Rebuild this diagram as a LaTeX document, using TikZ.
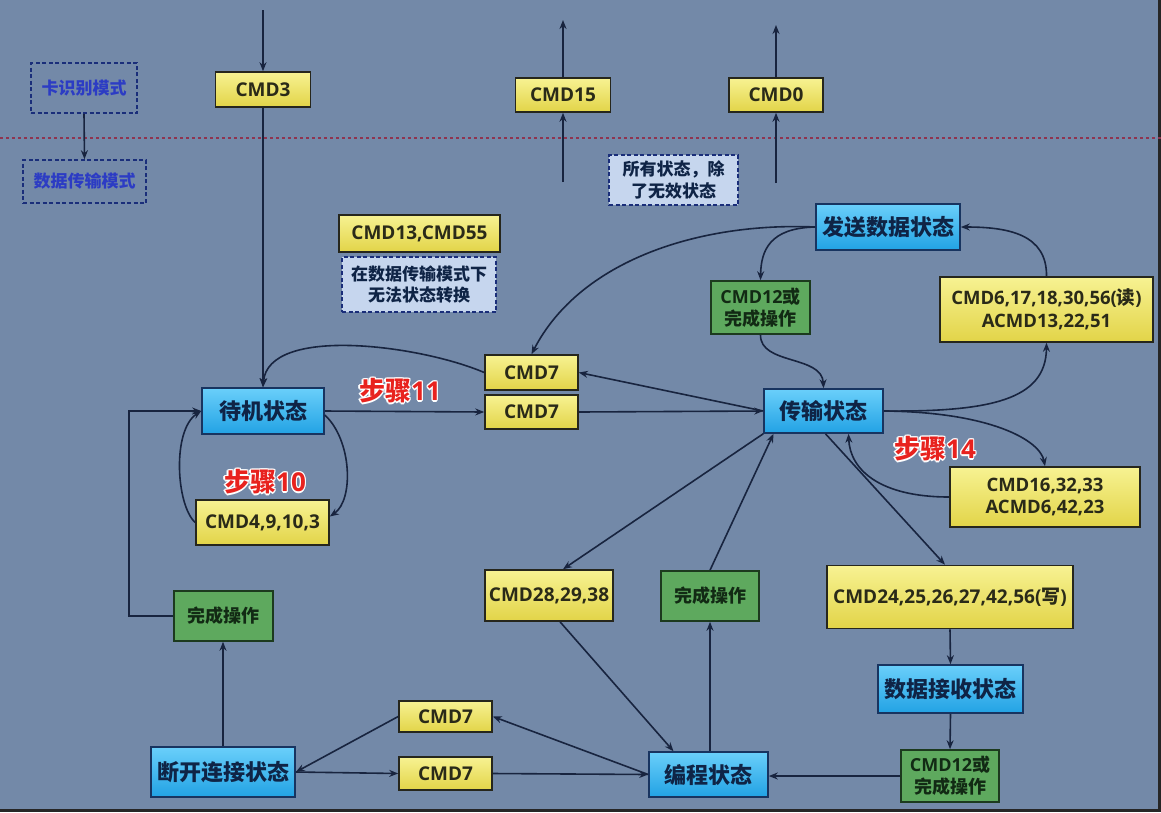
\documentclass[tikz,border=0pt]{standalone}
\usepackage{fontspec}
\setmainfont{Open Sans}
\newfontfamily\cjk{Noto Sans CJK SC}
\usetikzlibrary{arrows.meta}
\definecolor{bgc}{HTML}{7389A8}
\definecolor{lc}{HTML}{18243F}
\definecolor{ytop}{HTML}{F7F292}
\definecolor{ybot}{HTML}{E2D448}
\definecolor{ybord}{HTML}{26261C}
\definecolor{ytext}{HTML}{2A2A18}
\definecolor{btop}{HTML}{6ACFFA}
\definecolor{bbot}{HTML}{22A2E4}
\definecolor{bbord}{HTML}{183460}
\definecolor{btext}{HTML}{0F2446}
\definecolor{gfill}{HTML}{5EA95E}
\definecolor{gbord}{HTML}{1C3A1E}
\definecolor{gtext}{HTML}{122A14}
\definecolor{dfill}{HTML}{C6D6EE}
\definecolor{dbord}{HTML}{1A2E7A}
\definecolor{modetext}{HTML}{2C3CC4}
\definecolor{redlab}{HTML}{E8221E}
\definecolor{sepline}{HTML}{8E3450}
\newcommand\zh[1]{{\cjk #1}}
\newcommand\halo[1]{\leavevmode
  \rlap{\textcolor{white}{\raisebox{1.2pt}{#1}}}%
  \rlap{\textcolor{white}{\raisebox{-1.2pt}{#1}}}%
  \rlap{\textcolor{white}{\hspace{1.2pt}#1}}%
  \rlap{\textcolor{white}{\hspace{-1.2pt}#1}}%
  \rlap{\textcolor{white}{\hspace{0.9pt}\raisebox{0.9pt}{#1}}}%
  \rlap{\textcolor{white}{\hspace{-0.9pt}\raisebox{-0.9pt}{#1}}}%
  \rlap{\textcolor{white}{\hspace{0.9pt}\raisebox{-0.9pt}{#1}}}%
  \rlap{\textcolor{white}{\hspace{-0.9pt}\raisebox{0.9pt}{#1}}}%
  #1}
\begin{document}
\begin{tikzpicture}[x=1pt,y=-1pt,
  boxbase/.style={rectangle, inner sep=0pt, align=center, line width=1.6pt},
  ybox/.style={boxbase, draw=ybord, top color=ytop, bottom color=ybot, text=ytext, font=\bfseries\fontsize{19}{22}\selectfont},
  ybox2/.style={ybox, font=\bfseries\fontsize{18.5}{22.5}\selectfont},
  bbox/.style={boxbase, draw=bbord, top color=btop, bottom color=bbot, text=btext, font=\cjk\bfseries\fontsize{22}{25}\selectfont},
  gbox/.style={boxbase, draw=gbord, fill=gfill, text=gtext, font=\bfseries\fontsize{18}{22}\selectfont},
  notebox/.style={boxbase, draw=dbord, dash pattern=on 4pt off 2.5pt, fill=dfill, text=btext, font=\cjk\bfseries\fontsize{17}{21.5}\selectfont},
  modebox/.style={boxbase, draw=dbord, dash pattern=on 4pt off 2.5pt, text=modetext, font=\cjk\bfseries\fontsize{17}{20}\selectfont},
  steplab/.style={text=redlab, inner sep=0pt, font=\bfseries\fontsize{26}{29}\selectfont},
  conn/.style={draw=lc, line width=1.6pt, -{Stealth[length=9pt,width=7pt]}},
]
\useasboundingbox (0,0) rectangle (1161,812);
\fill[bgc] (0,0) rectangle (1161,812);
\fill[black!85] (0,809) rectangle (1161,812);
\fill[black!85] (1158,0) rectangle (1161,812);

% separator
\draw[sepline, line width=1.3pt, dash pattern=on 3pt off 3pt] (0,138) -- (1161,138);

% mode boxes
\node[modebox, minimum width=106pt, minimum height=50pt] (mode1) at (84,88) {卡识别模式};
\node[modebox, minimum width=123pt, minimum height=43pt] (mode2) at (84.5,181.5) {数据传输模式};

% top commands
\node[ybox, minimum width=95pt, minimum height=35pt] (cmd3) at (263,89.5) {CMD3};
\node[ybox, minimum width=95pt, minimum height=34pt] (cmd15) at (563,95) {CMD15};
\node[ybox, minimum width=94pt, minimum height=34pt] (cmd0) at (776,95) {CMD0};
\node[notebox, minimum width=129pt, minimum height=50pt] (allst) at (673.5,180) {所有状态，除\\了无效状态};
\node[ybox, minimum width=161pt, minimum height=37pt] (cmd1355) at (419.5,233.5) {CMD13,CMD55};
\node[notebox, minimum width=154pt, minimum height=55pt] (nochg) at (419,284.5) {在数据传输模式下\\无法状态转换};

% states
\node[bbox, minimum width=144pt, minimum height=46pt] (send) at (888,227) {发送数据状态};
\node[bbox, minimum width=122pt, minimum height=46pt] (idle) at (263,411) {待机状态};
\node[bbox, minimum width=119pt, minimum height=44pt] (trans) at (823.5,411) {传输状态};
\node[bbox, minimum width=145pt, minimum height=48pt] (recv) at (950.5,689) {数据接收状态};
\node[bbox, minimum width=119pt, minimum height=45pt] (prog) at (708.5,774.5) {编程状态};
\node[bbox, minimum width=144pt, minimum height=50pt] (dis) at (223,772) {断开连接状态};

% green
\node[gbox, minimum width=99pt, minimum height=53pt] (g1) at (760.5,307.5) {CMD12\zh{或}\\\zh{完成操作}};
\node[gbox, minimum width=99pt, minimum height=50pt] (gl) at (223.5,616) {\zh{完成操作}};
\node[gbox, minimum width=98pt, minimum height=50pt] (gm) at (710,596) {\zh{完成操作}};
\node[gbox, minimum width=98pt, minimum height=52pt] (g2) at (950,776) {CMD12\zh{或}\\\zh{完成操作}};

% yellow commands
\node[ybox2, minimum width=213pt, minimum height=65pt] (r1) at (1046.5,309.5) {CMD6,17,18,30,56(\zh{读})\\ACMD13,22,51};
\node[ybox, minimum width=93pt, minimum height=35pt] (c7u) at (531.5,372.5) {CMD7};
\node[ybox, minimum width=93pt, minimum height=34pt] (c7l) at (531.5,412) {CMD7};
\node[ybox2, minimum width=190pt, minimum height=60pt] (r2) at (1045,497) {CMD16,32,33\\ACMD6,42,23};
\node[ybox, minimum width=133pt, minimum height=45pt] (cmd4) at (262.5,522.5) {CMD4,9,10,3};
\node[ybox, minimum width=128pt, minimum height=51pt] (c28) at (549,595.5) {CMD28,29,38};
\node[ybox, minimum width=246pt, minimum height=63pt] (c24) at (950,597) {CMD24,25,26,27,42,56(\zh{写})};
\node[ybox, minimum width=93pt, minimum height=31pt] (c7bu) at (445.5,716.5) {CMD7};
\node[ybox, minimum width=93pt, minimum height=33pt] (c7bl) at (445.5,773.5) {CMD7};

% step labels
\node[steplab] (s11) at (400,391) {\halo{\zh{步骤}11}};
\node[steplab] (s10) at (265,482) {\halo{\zh{步骤}10}};
\node[steplab] (s14) at (935,449) {\halo{\zh{步骤}14}};

% free ends
\coordinate (t3) at (263,10);
\coordinate (b15) at (563,182);
\coordinate (t15) at (563,20);
\coordinate (b0) at (776,183);
\coordinate (t0) at (776,25);

% connectors
\draw[conn] (mode1.south) -- (mode2.north);
\draw[conn] (t3) -- (cmd3.north);
\draw[conn] (cmd3.south) -- (idle.north);
\draw[conn] (b15) -- (cmd15.south);
\draw[conn] (cmd15.north) -- (t15);
\draw[conn] (b0) -- (cmd0.south);
\draw[conn] (cmd0.north) -- (t0);

\draw[conn] (c7u.west) .. controls (420,345) and (268,325) .. (idle.north);
\draw[conn] (idle.east) -- (c7l.west);
\draw[conn] (c7l.east) -- (trans.west);
\draw[conn] (trans.west) -- (c7u.east);
\draw[conn] (send.west) .. controls (700,222) and (580,260) .. (c7u.north);
\draw[conn] (send.west) .. controls (770,228) and (761,250) .. (g1.north);
\draw[conn] (g1.south) .. controls (760,365) and (822,355) .. (trans.north);
\draw[conn] (trans.east) .. controls (990,412) and (1046,400) .. (r1.south);
\draw[conn] (r1.north) .. controls (1047,235) and (1010,227) .. (send.east);
\draw[conn] (trans.east) .. controls (990,412) and (1040,440) .. (r2.north);
\draw[conn] (r2.west) .. controls (880,497) and (850,470) .. ([xshift=25pt]trans.south);
\draw[conn] (trans.south west) -- ([xshift=14pt]c28.north);
\draw[conn] (gm.north) -- ([xshift=-50pt]trans.south);
\draw[conn] ([xshift=2pt]trans.south) -- ([xshift=-5pt]c24.north);
\draw[conn] ([xshift=11pt]c28.south) -- ([xshift=-35pt]prog.north);
\draw[conn] (prog.north -| gm.south) -- (gm.south);
\draw[conn] (c24.south) -- (recv.north);
\draw[conn] (recv.south) -- (g2.north);
\draw[conn] (g2.west) -- (g2.west -| prog.east);
\draw[conn] (prog.west) -- (c7bu.east);
\draw[conn] (c7bl.east) -- (prog.west);
\draw[conn] (c7bu.west) -- (dis.east);
\draw[conn] (dis.east) -- (c7bl.west);
\draw[conn] (dis.north) -- (dis.north |- gl.south);
\draw[conn] (gl.west) -- ++(-44,0) |- (idle.west);
\draw[conn] (cmd4.west) .. controls (176,505) and (172,430) .. (idle.west);
\draw[conn] ([yshift=-4pt]idle.east) .. controls (352,440) and (354,500) .. ([yshift=6pt]cmd4.east);
\end{tikzpicture}
\end{document}
